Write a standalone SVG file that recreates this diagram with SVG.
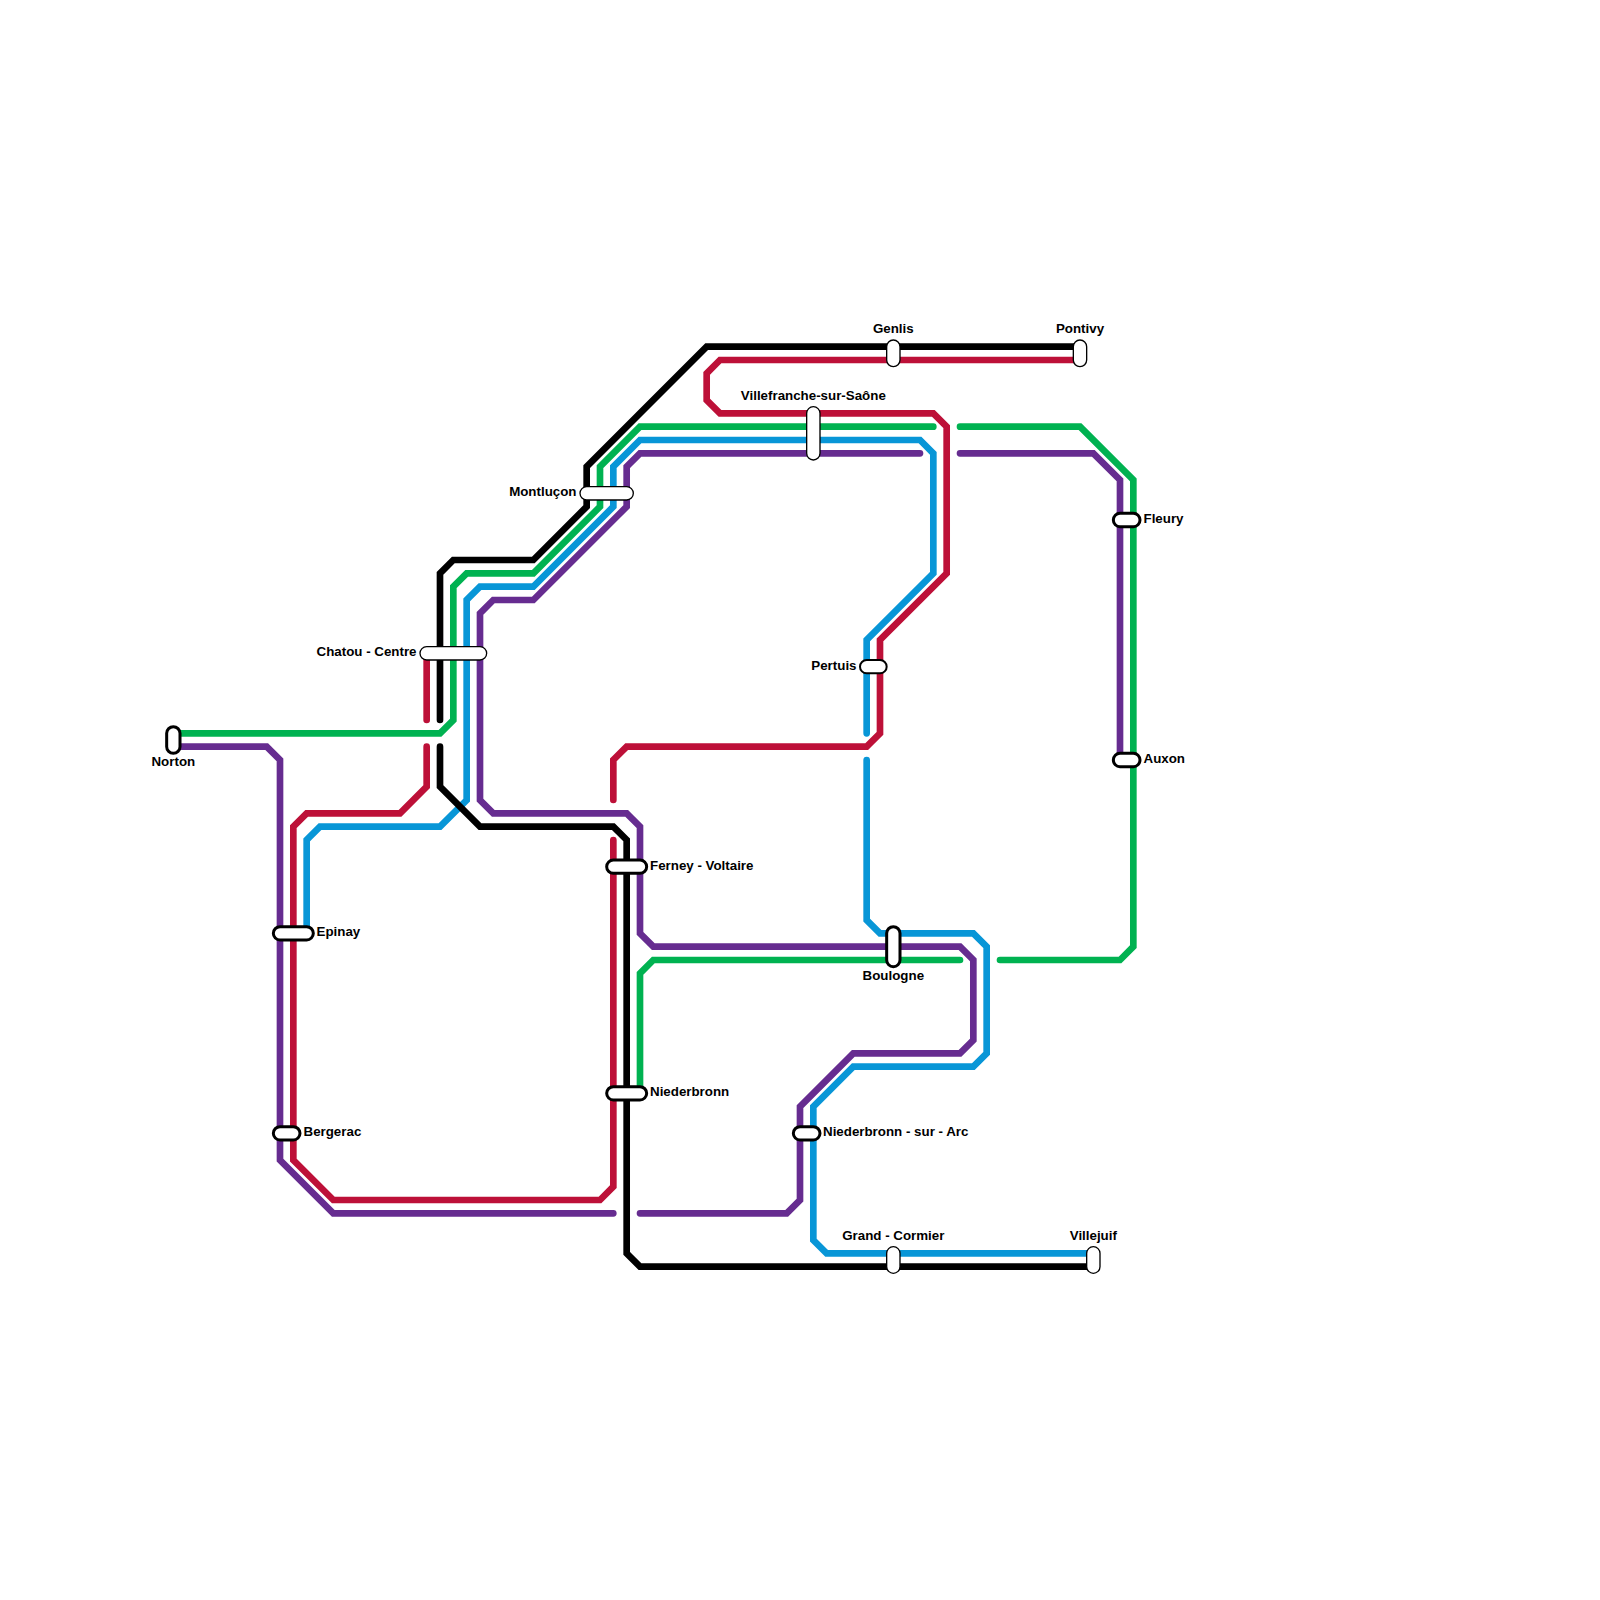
<svg xmlns="http://www.w3.org/2000/svg" width="1600" height="1600" viewBox="0 0 1600 1600">
<style>
.l{fill:none;stroke-width:6.67;stroke-linejoin:miter;stroke-linecap:round}
.k{stroke:#000}.r{stroke:#bd1038}.g{stroke:#00b251}.b{stroke:#0896d7}.p{stroke:#662c90}
.s{fill:#fff;stroke:#000}
.t{stroke-width:1.33}.h{stroke-width:3}.n{stroke-width:2}
text{font-family:"Liberation Sans",Arial,sans-serif;font-size:13.33px;font-weight:bold;fill:#000}
.m{text-anchor:middle}.e{text-anchor:end}
</style>
<rect width="1600" height="1600" fill="#fff"/>
<g id="connectors">
<path class="l p" d="M173.33 746.67H266.67L280 760V1160L333.33 1213.33H613.33"/>
<path class="l p" d="M640 1213.33H786.67L800 1200V1106.67L853.33 1053.33H960L973.33 1040V960L960 946.67H653.33L640 933.33V826.67L626.67 813.33H493.33L480 800V613.33L493.33 600H533.33L626.67 506.67V466.67L640 453.33H920"/>
<path class="l p" d="M960 453.33H1093.33L1120 480V760"/>
<path class="l b" d="M1093.33 1253.33H826.67L813.33 1240V1106.67L853.33 1066.67H973.33L986.67 1053.33V946.67L973.33 933.33H880L866.67 920V760"/>
<path class="l b" d="M866.67 733.33V640L933.33 573.33V453.33L920 440H640L613.33 466.67V506.67L533.33 586.67H480L466.67 600V800L440 826.67H320L306.67 840V933.33"/>
<path class="l g" d="M173.33 733.33H440L453.33 720V586.67L466.67 573.33H533.33L600 506.67V466.67L640 426.67H933.33"/>
<path class="l g" d="M960 426.67H1080L1133.33 480V946.67L1120 960H1000"/>
<path class="l g" d="M960 960H653.33L640 973.33V1093.33"/>
<path class="l r" d="M1080 360H720L706.67 373.33V400L720 413.33H933.33L946.67 426.67V573.33L880 640V733.33L866.67 746.67H626.67L613.33 760V800"/>
<path class="l r" d="M613.33 840V1186.67L600 1200H333.33L293.33 1160V826.67L306.67 813.33H400L426.67 786.67V746.67"/>
<path class="l r" d="M426.67 720V653.33"/>
<path class="l k" d="M1080 346.67H706.67L586.67 466.67V506.67L533.33 560H453.33L440 573.33V720"/>
<path class="l k" d="M440 746.67V786.67L480 826.67H613.33L626.67 840V1253.33L640 1266.67H1093.33"/>
</g>
<g id="norton"><rect class="s h" x="166.67" y="726.67" width="13.33" height="26.67" rx="6.67"/><text class="m" x="173.33" y="766">Norton</text></g>
<g id="montlucon"><rect class="s t" x="580" y="486.67" width="53.33" height="13.33" rx="6.67"/><text class="e" x="576.5" y="496">Montluçon</text></g>
<g id="chatou"><rect class="s t" x="420" y="646.67" width="66.67" height="13.33" rx="6.67"/><text class="e" x="416.5" y="656">Chatou - Centre</text></g>
<g id="genlis"><rect class="s t" x="886.67" y="340" width="13.33" height="26.67" rx="6.67"/><text class="m" x="893.33" y="333">Genlis</text></g>
<g id="pontivy"><rect class="s t" x="1073.33" y="340" width="13.33" height="26.67" rx="6.67"/><text class="m" x="1080" y="333">Pontivy</text></g>
<g id="villefranche"><rect class="s t" x="806.67" y="406.67" width="13.33" height="53.33" rx="6.67"/><text class="m" x="813.33" y="400">Villefranche-sur-Saône</text></g>
<g id="fleury"><rect class="s h" x="1113.33" y="513.33" width="26.67" height="13.33" rx="6.67"/><text x="1143.5" y="523">Fleury</text></g>
<g id="pertuis"><rect class="s n" x="860" y="660" width="26.67" height="13.33" rx="6.67"/><text class="e" x="856.5" y="670">Pertuis</text></g>
<g id="auxon"><rect class="s h" x="1113.33" y="753.33" width="26.67" height="13.33" rx="6.67"/><text x="1143.5" y="763">Auxon</text></g>
<g id="epinay"><rect class="s h" x="273.33" y="926.67" width="40" height="13.33" rx="6.67"/><text x="316.5" y="936">Epinay</text></g>
<g id="ferney"><rect class="s h" x="606.67" y="860" width="40" height="13.33" rx="6.67"/><text x="650" y="870">Ferney - Voltaire</text></g>
<g id="niederbronn"><rect class="s h" x="606.67" y="1086.67" width="40" height="13.33" rx="6.67"/><text x="650" y="1096">Niederbronn</text></g>
<g id="boulogne"><rect class="s h" x="886.67" y="926.67" width="13.33" height="40" rx="6.67"/><text class="m" x="893.33" y="980">Boulogne</text></g>
<g id="niederbronn-arc"><rect class="s h" x="793.33" y="1126.67" width="26.67" height="13.33" rx="6.67"/><text x="823" y="1136">Niederbronn - sur - Arc</text></g>
<g id="bergerac"><rect class="s h" x="273.33" y="1126.67" width="26.67" height="13.33" rx="6.67"/><text x="303.5" y="1136">Bergerac</text></g>
<g id="grand-cormier"><rect class="s t" x="886.67" y="1246.67" width="13.33" height="26.67" rx="6.67"/><text class="m" x="893.33" y="1239.5">Grand - Cormier</text></g>
<g id="villejuif"><rect class="s t" x="1086.67" y="1246.67" width="13.33" height="26.67" rx="6.67"/><text class="m" x="1093.33" y="1239.5">Villejuif</text></g>
</svg>
